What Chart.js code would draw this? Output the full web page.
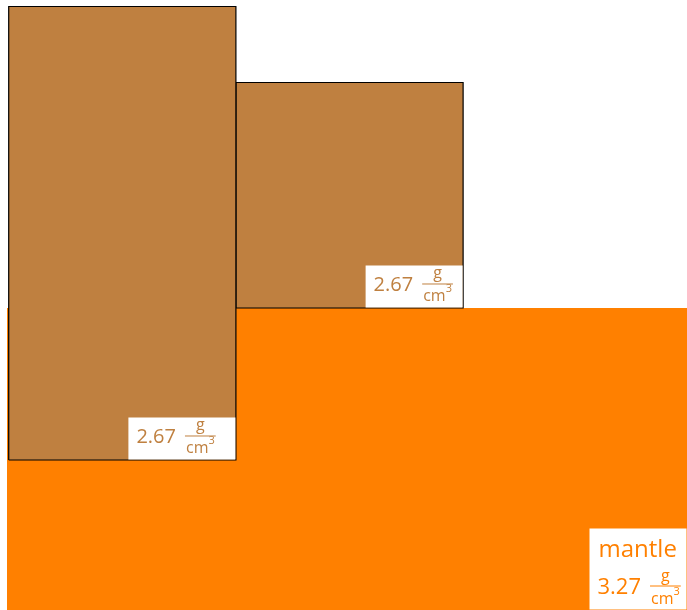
<!DOCTYPE html>
<html>
<head>
<meta charset="utf-8">
<script src="https://cdn.jsdelivr.net/npm/chart.js@4/dist/chart.umd.min.js"></script>
<style>
  html, body { margin: 0; padding: 0; background: #fff; }
  #wrap { width: 687px; height: 610px; }
</style>
</head>
<body>
<div id="wrap"><canvas id="myChart" width="687" height="610"></canvas></div>
<script>
// layers, in block-width units; mantle surface is y = 0
const layerNames = ['block A', 'block B', 'mantle'];
const layerLeft = [0, 1, -0.0075];
const layerRight = [1, 2, 3.1];
const layerTop = [1.327, 0.9925, 0];
const layerBottom = [-0.669, 0, -1.4];
const densities = ['2.67', '2.67', '3.27'];
const layerTitles = ['', '', 'mantle'];
const densityUnit = ['g', 'cm', '3'];

const BROWN = '#bf8040';
const ORANGE = '#ff8000';

// corners of each rectangle for the line/shape fill
const datasets = layerNames.map((name, i) => {
    const isMantle = name === 'mantle';
    return {
        label: name,
        data: [
            { x: layerLeft[i], y: layerBottom[i] },
            { x: layerRight[i], y: layerBottom[i] },
            { x: layerRight[i], y: layerTop[i] },
            { x: layerLeft[i], y: layerTop[i] },
            { x: layerLeft[i], y: layerBottom[i] }
        ],
        showLine: true,
        fill: 'shape',
        backgroundColor: isMantle ? ORANGE : BROWN,
        borderColor: isMantle ? ORANGE : '#000',
        borderWidth: isMantle ? 0 : 1.2,
        pointRadius: 0,
        tension: 0
    };
});

// label boxes, sizes in px
const labelStyle = [
    { w: 107, h: 42, color: BROWN },
    { w: 97, h: 42, color: BROWN },
    { w: 97, h: 81, color: ORANGE }
];

const drawUnit = (ctx, x, lineY, size) => {
    const supSize = Math.round(size * 0.7);
    ctx.font = `${size}px "Open Sans"`;
    const cmW = ctx.measureText(densityUnit[1]).width;
    ctx.font = `${supSize}px "Open Sans"`;
    const supW = ctx.measureText(densityUnit[2]).width;
    const w = cmW + supW + 2;

    ctx.strokeStyle = ctx.fillStyle;
    ctx.lineWidth = 1;
    ctx.beginPath();
    ctx.moveTo(x, lineY + 0.5);
    ctx.lineTo(x + w, lineY + 0.5);
    ctx.stroke();

    ctx.textAlign = 'center';
    ctx.font = `${size}px "Open Sans"`;
    ctx.fillText(densityUnit[0], x + w / 2, lineY - 5);
    ctx.textAlign = 'left';
    ctx.fillText(densityUnit[1], x + 1, lineY + 18);
    ctx.font = `${supSize}px "Open Sans"`;
    ctx.fillText(densityUnit[2], x + 1 + cmW, lineY + 9);
};

const labelPlugin = {
    id: 'densityLabels',
    afterDatasetsDraw(chart) {
        const { ctx, chartArea, scales: { x, y } } = chart;
        ctx.save();
        ctx.textBaseline = 'alphabetic';
        layerNames.forEach((name, i) => {
            const st = labelStyle[i];
            const right = Math.min(x.getPixelForValue(layerRight[i]), chartArea.right) - 0.5;
            const bottom = Math.min(y.getPixelForValue(layerBottom[i]), chartArea.bottom) - 0.5;
            const left = right - st.w;
            const top = bottom - st.h;

            ctx.fillStyle = '#fff';
            ctx.fillRect(left, top, st.w, st.h);

            ctx.fillStyle = st.color;
            ctx.textAlign = 'left';
            const baseline = bottom - 16;
            let numSize = 20;
            if (layerTitles[i]) {
                ctx.font = '24px "Open Sans"';
                ctx.fillText(layerTitles[i], left + 9, bottom - 53);
                numSize = 22;
            }
            ctx.font = `${numSize}px "Open Sans"`;
            ctx.fillText(densities[i], left + 8, baseline);
            const numW = ctx.measureText(densities[i]).width;
            drawUnit(ctx, left + 8 + numW + 9, baseline - 8, 16);
        });
        ctx.restore();
    }
};

const ctx = document.getElementById('myChart').getContext('2d');
new Chart(ctx, {
    type: 'scatter',
    data: { datasets },
    options: {
        responsive: false,
        devicePixelRatio: 1,
        animation: false,
        layout: { padding: 0 },
        scales: {
            x: { type: 'linear', min: -0.0383, max: 2.9854, display: false },
            y: { type: 'linear', min: -1.3292, max: 1.3556, display: false }
        },
        plugins: {
            legend: { display: false },
            tooltip: { enabled: false }
        }
    },
    plugins: [labelPlugin]
});
</script>
</body>
</html>
